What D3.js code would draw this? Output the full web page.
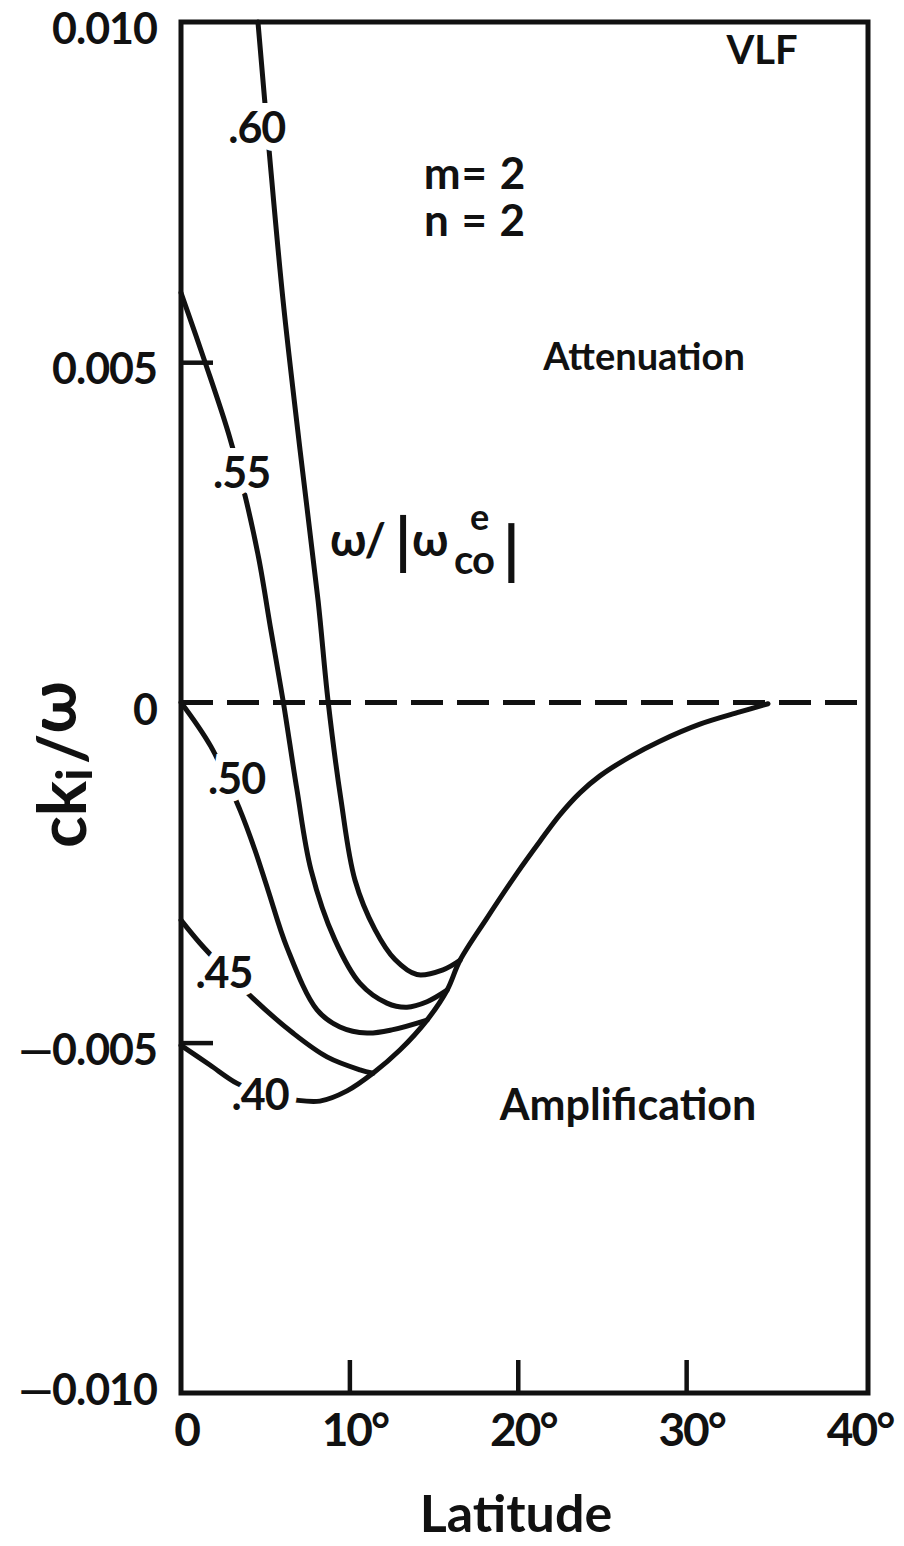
<!DOCTYPE html>
<html>
<head>
<meta charset="utf-8">
<script src="https://cdn.jsdelivr.net/npm/d3@7"></script>
<style>
  html, body { margin: 0; padding: 0; background: #fff; }
  svg { display: block; }
  text { font-family: Lato, "Noto Sans", sans-serif; font-weight: 700; fill: #111; }
</style>
</head>
<body>
<script>
// ---- data ----
const latTicks = [0, 10, 20, 30, 40];
const latLabels = ["0", "10°", "20°", "30°", "40°"];
const ckTicks = [0.010, 0.005, 0, -0.005, -0.010];
const ckLabels = ["0.010", "0.005", "0", "\u20140.005", "\u20140.010"];
const innerYTicks = [0.005, -0.005];
const innerXTicks = [10, 20, 30];

const seriesNames = [".60", ".55", ".50", ".45", ".40"];

const lat60 = [4.57, 5.23, 6.06, 7.07, 8.14, 8.73, 9.50, 10.33, 11.52, 12.71, 14.01, 15.56, 16.57];
const ck60  = [0.01000, 0.00812, 0.00591, 0.00371, 0.00150, 0.00003, -0.00143, -0.00261, -0.00334, -0.00378, -0.00400, -0.00393, -0.00379];

const lat55 = [0, 1.43, 2.85, 3.86, 4.63, 5.34, 6.06, 6.89, 7.72, 9.14, 10.63, 12.23, 13.42, 14.61, 15.80];
const ck55  = [0.00602, 0.00500, 0.00393, 0.00298, 0.00210, 0.00106, 0.00003, -0.00129, -0.00246, -0.00349, -0.00413, -0.00442, -0.00448, -0.00440, -0.00423];

const lat50 = [0, 1.78, 3.50, 4.39, 5.17, 6.29, 8.08, 9.44, 11.05, 12.59, 14.61];
const ck50  = [0, -0.00065, -0.00158, -0.00217, -0.00276, -0.00360, -0.00452, -0.00477, -0.00486, -0.00481, -0.00467];

const lat45 = [0, 1.13, 2.61, 4.28, 6.65, 8.67, 10.63, 11.40];
const ck45  = [-0.00320, -0.00354, -0.00393, -0.00435, -0.00486, -0.00521, -0.00540, -0.00545];

const lat40 = [0, 1.72, 3.33, 4.99, 6.65, 8.25, 9.86, 11.40, 13.00, 14.61, 15.80, 16.57, 18.17, 20.01, 21.32, 22.51, 23.69, 24.88, 26.66, 28.44, 30.82, 33.19, 34.86];
const ck40  = [-0.00504, -0.00533, -0.00560, -0.00577, -0.00584, -0.00586, -0.00571, -0.00545, -0.00511, -0.00467, -0.00423, -0.00379, -0.00317, -0.00249, -0.00204, -0.00165, -0.00133, -0.00108, -0.00080, -0.00057, -0.00032, -0.00014, -0.00002];

// label anchor positions (data coords)
const labelLat = [4.5, 3.6, 3.3, 2.55, 4.7];
const labelCk  = [0.00847, 0.00340, -0.00110, -0.00395, -0.00575];

// ---- chart ----
const W = 904, H = 1546;
const svg = d3.select("body").append("svg").attr("width", W).attr("height", H);

const x = d3.scaleLinear().domain([0, 40.8]).range([181, 868]);
const y = d3.scaleLinear().domain([-0.01015, 0.010]).range([1393, 22]);

// zero dashed line
svg.append("line")
  .attr("x1", x(0)).attr("x2", x(40.8))
  .attr("y1", y(0)).attr("y2", y(0))
  .attr("stroke", "#111").attr("stroke-width", 5)
  .attr("stroke-dasharray", "32,14");

// curves
const series = [
  {name: seriesNames[0], lat: lat60, ck: ck60},
  {name: seriesNames[1], lat: lat55, ck: ck55},
  {name: seriesNames[2], lat: lat50, ck: ck50},
  {name: seriesNames[3], lat: lat45, ck: ck45},
  {name: seriesNames[4], lat: lat40, ck: ck40}
];
const line = d3.line().x(d => x(d[0])).y(d => y(d[1])).curve(d3.curveCatmullRom.alpha(0.5));
svg.append("g").selectAll("path").data(series).join("path")
  .attr("d", s => line(s.lat.map((v, i) => [v, s.ck[i]])))
  .attr("fill", "none").attr("stroke", "#111").attr("stroke-width", 5)
  .attr("stroke-linecap", "round").attr("stroke-linejoin", "round");

// curve labels with white halo (breaks the curve)
svg.append("g").selectAll("text").data(series).join("text")
  .attr("x", (s, i) => x(labelLat[i]))
  .attr("y", (s, i) => y(labelCk[i]))
  .attr("text-anchor", "middle")
  .attr("dominant-baseline", "central")
  .attr("font-size", 43)
  .attr("letter-spacing", -1)
  .attr("stroke", "#fff").attr("stroke-width", 16).attr("paint-order", "stroke")
  .text(s => s.name);

// frame
svg.append("rect")
  .attr("x", x(0)).attr("y", y(0.010))
  .attr("width", x(40.8) - x(0)).attr("height", y(-0.01015) - y(0.010))
  .attr("fill", "none").attr("stroke", "#111").attr("stroke-width", 5);

// inner ticks
const xt = svg.append("g").attr("transform", `translate(0,${y(-0.01015)})`)
  .call(d3.axisBottom(x).tickValues(innerXTicks).tickSize(-33).tickFormat(""));
xt.select(".domain").remove();
xt.selectAll("line").attr("stroke", "#111").attr("stroke-width", 4.5);

const yt = svg.append("g").attr("transform", `translate(${x(0)},0)`)
  .call(d3.axisRight(y).tickValues(innerYTicks).tickSize(32).tickFormat(""));
yt.select(".domain").remove();
yt.selectAll("line").attr("stroke", "#111").attr("stroke-width", 4.5);

// tick labels
const xl = svg.append("g").attr("transform", `translate(5,${y(-0.01015)})`)
  .call(d3.axisBottom(x).tickValues(latTicks).tickSize(0).tickPadding(20).tickFormat((d, i) => latLabels[i]));
xl.select(".domain").remove();
xl.selectAll("text").attr("font-size", 46).attr("font-family", "Lato").attr("font-weight", 700).attr("fill", "#111").attr("letter-spacing", -2);

const yl = svg.append("g").attr("transform", `translate(${x(0) - 24},8)`)
  .call(d3.axisLeft(y).tickValues(ckTicks).tickSize(0).tickPadding(0).tickFormat((d, i) => ckLabels[i]));
yl.select(".domain").remove();
yl.selectAll("text").attr("font-size", 43).attr("font-family", "Lato").attr("font-weight", 700).attr("fill", "#111").attr("letter-spacing", -1);

// axis titles
svg.append("text").attr("x", 516).attr("y", 1532).attr("text-anchor", "middle")
  .attr("font-size", 52).text("Latitude");

const yTitle = svg.append("text")
  .attr("transform", "translate(86,848) rotate(-90)")
  .attr("font-size", 66);
yTitle.append("tspan").text("ck");
yTitle.append("tspan").attr("font-size", 50).attr("dy", 6).text("i");
yTitle.append("tspan").attr("dy", -6).attr("dx", 4).text("/");
yTitle.append("tspan").attr("dy", -10).text("ω");

// annotations
svg.append("text").attr("x", 762).attr("y", 64).attr("text-anchor", "middle").attr("font-size", 40).text("VLF");
svg.append("text").attr("x", 475).attr("y", 189).attr("text-anchor", "middle").attr("font-size", 44).attr("letter-spacing", 1).text("m= 2");
svg.append("text").attr("x", 475).attr("y", 236).attr("text-anchor", "middle").attr("font-size", 44).attr("letter-spacing", 1).text("n = 2");
svg.append("text").attr("x", 644).attr("y", 370).attr("text-anchor", "middle").attr("font-size", 38).text("Attenuation");
svg.append("text").attr("x", 628).attr("y", 1120).attr("text-anchor", "middle").attr("font-size", 43).text("Amplification");

// omega ratio label
const om = svg.append("g");
om.append("text").attr("x", 330).attr("y", 556).attr("font-size", 46).attr("letter-spacing", -2).text("ω/");
om.append("text").attr("x", 395).attr("y", 562).attr("font-size", 62).text("|");
om.append("text").attr("x", 412).attr("y", 556).attr("font-size", 46).text("ω");
om.append("text").attr("x", 454).attr("y", 574).attr("font-size", 40).attr("letter-spacing", -1).text("co");
om.append("text").attr("x", 470).attr("y", 530).attr("font-size", 36).text("e");
om.append("text").attr("x", 503).attr("y", 572).attr("font-size", 64).text("|");
</script>
</body>
</html>
